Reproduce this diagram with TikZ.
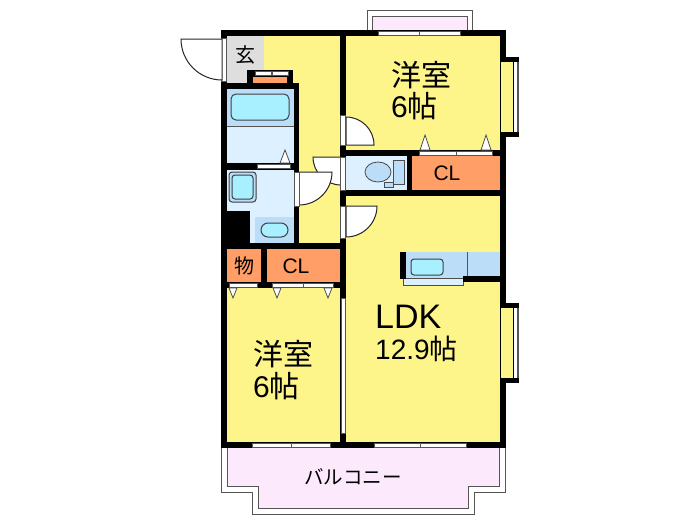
\documentclass[tikz,border=0pt]{standalone}
\usepackage{fontspec}
\setmainfont{Liberation Sans}
\newfontfamily\jpfont{Noto Sans CJK JP}
\definecolor{roomyellow}{HTML}{FDF58A}
\definecolor{closetorange}{HTML}{FF9E66}
\definecolor{entrygray}{HTML}{DEDEDE}
\definecolor{balconypink}{HTML}{FCE9FC}
\definecolor{wetblue}{HTML}{BBDDF7}
\definecolor{wetpale}{HTML}{DDF0FF}
\definecolor{tubcyan}{HTML}{A8F0FF}
\definecolor{linegray}{HTML}{555555}
\tikzset{
    wall/.style={fill=black},
    pane/.style={fill=white,draw=linegray,line width=1pt},
    doorleaf/.style={fill=white,draw=black!85,line width=1pt},
    fixture/.style={draw=black!75,line width=1pt,rounded corners=3pt},
    hinge/.style={fill=white,draw=black!70,line width=0.8pt},
    shell/.style={draw=linegray,line width=1pt},
    bigtext/.style={anchor=west,inner sep=0pt,font=\fontsize{30}{30}\selectfont},
    jptext/.style={inner sep=0pt,font=\jpfont\fontsize{20}{20}\selectfont},
    cltext/.style={inner sep=0pt,font=\fontsize{21}{21}\selectfont}
}
\begin{document}
\begin{tikzpicture}[x=1pt,y=-1pt]
    \useasboundingbox (0,0) rectangle (700,525);
    %% balconies
    \filldraw[shell,fill=white] (367,30) -- (367,10) -- (472,10) -- (472,30);
    \filldraw[shell,fill=balconypink] (372,30) -- (372,16) -- (467,16) -- (467,30);
    \draw[shell] (221,448) -- (221,492) -- (252,492) -- (252,514) -- (474,514) -- (474,492) -- (505,492) -- (505,448);
    \filldraw[shell,fill=balconypink] (227,448) -- (227,486) -- (258,486) -- (258,508) -- (468,508) -- (468,486) -- (499,486) -- (499,448);
    %% rooms
    \fill[roomyellow] (227,36) rectangle (500,442);
    \fill[entrygray] (227,36) rectangle (264,83);
    \fill[wetblue] (227,89) rectangle (294,126);
    \fill[wetpale] (227,126) rectangle (294,163);
    \fill[wetpale] (227,170) rectangle (294,211);
    \fill[wetpale] (250,211) rectangle (294,243);
    \fill[wetblue] (255,217) rectangle (294,243);
    \fill[wetpale] (346,156) rectangle (407,190);
    \fill[closetorange] (412,156) rectangle (500,190);
    \fill[closetorange] (227,249) rectangle (261,282);
    \fill[closetorange] (267,249) rectangle (340,282);
    %% bay windows
    \foreach \ya/\yb in {57/136.5,303/382.5}{
        \fill[wall] (500,\ya) rectangle (518.5,\yb);
        \fill[roomyellow] (500.5,\ya+5) rectangle (513,\yb-5);
        \fill[white] (514,\ya+5) rectangle (516.5,\yb-5);
        \fill[linegray] (516.5,\ya+5) rectangle (518.5,\yb-5);
    }
    %% walls
    \fill[wall] (221,30) rectangle (506,36);
    \fill[wall] (221,442) rectangle (506,448);
    \fill[wall] (221,30) rectangle (227,448);
    \fill[wall] (340,30) rectangle (346,448);
    \fill[wall] (500,30) rectangle (506,62);
    \fill[wall] (500,131.5) rectangle (506,308);
    \fill[wall] (500,377.5) rectangle (506,448);
    \fill[wall] (221,83) rectangle (299,89);
    \fill[wall] (294,83) rectangle (299,243);
    \fill[wall] (227,163) rectangle (294,170);
    \fill[wall] (221,211) rectangle (250,243);
    \fill[wall] (221,243) rectangle (346,249);
    \fill[wall] (261,249) rectangle (267,282);
    \fill[wall] (221,282) rectangle (346,288);
    \fill[wall] (346,150) rectangle (506,156);
    \fill[wall] (346,190) rectangle (506,196);
    \fill[wall] (407,156) rectangle (412,190);
    %% shoe cupboard
    \fill[wall] (247,70) rectangle (293,83);
    \fill[closetorange] (253,77) rectangle (287,83);
    \foreach \xa/\xb in {255/271,272/288}
        \filldraw[pane] (\xa,71.5) rectangle (\xb,75);
    %% window and closet door panes
    \foreach \xa/\xb/\ya/\yb in {378/419/31/35,419/460/31/35,
        252/291/443/447,291/330/443/447,374/420/443/447,420/466/443/447,
        229/257/283/287,272/303/283/287,303/333/283/287,
        419/456/151/155,456/492/151/155,257/290/164/168}
        \filldraw[pane] (\xa,\ya) rectangle (\xb,\yb);
    %% closet door pointers
    \foreach \x/\ya/\yb in {425/135/150,486/135/150,285/150/163}
        \filldraw[hinge] (\x-5,\yb) -- (\x,\ya) -- (\x+5,\yb) -- cycle;
    \foreach \x in {233,277,328}
        \filldraw[hinge] (\x-4,288) -- (\x,298) -- (\x+4,288) -- cycle;
    %% sliding door
    \filldraw[pane] (341,298) rectangle (345.5,433);
    %% doors
    \filldraw[pane] (221.5,38) rectangle (226,81);
    \filldraw[doorleaf] (222,39) -- (181,39) arc[start angle=180,end angle=90,radius=41] -- cycle;
    \filldraw[doorleaf] (346,145) -- (374,145) arc[start angle=0,end angle=-90,radius=28] -- cycle;
    \filldraw[doorleaf] (341,157) -- (313,157) arc[start angle=180,end angle=90,radius=28] -- cycle;
    \filldraw[doorleaf] (299,172) -- (332,172) arc[start angle=0,end angle=90,radius=33] -- cycle;
    \filldraw[doorleaf] (346,206) -- (377,206) arc[start angle=0,end angle=90,radius=31] -- cycle;
    \foreach \ya/\yb/\xa in {115/145/340.5,157/190/340.5,206/238/340.5,172/206/294.5}
        \filldraw[pane] (\xa,\ya) rectangle (\xa+5,\yb);
    %% bath fixtures
    \draw[fixture,fill=tubcyan,rounded corners=5pt] (231,94) rectangle (289,120);
    \draw[linegray] (227,126) -- (294,126);
    \draw[fixture,fill=wetblue] (229,172) rectangle (256,202);
    \draw[fixture,fill=tubcyan] (232,175) rectangle (253,199);
    \draw[fixture,fill=tubcyan,rounded corners=7pt] (261,223) rectangle (288,237);
    %% toilet
    \filldraw[hinge,fill=wetblue] (393,160) rectangle (404,184);
    \filldraw[hinge,fill=wetblue] (384,182) rectangle (393,187);
    \filldraw[hinge,fill=wetblue] (378,172) ellipse [x radius=13,y radius=10];
    %% kitchen
    \fill[wetblue] (406,252) rectangle (500,278);
    \draw[linegray] (467,252) -- (467,278);
    \filldraw[hinge,fill=wetpale] (403,278) rectangle (463,285);
    \fill[wall] (400,252) rectangle (406,279);
    \fill[wall] (463,276) rectangle (500,282);
    \draw[fixture,fill=tubcyan] (411,259) rectangle (443,275);
    %% labels
    \node[bigtext,font=\jpfont\fontsize{30}{30}\selectfont] (roomA) at (391,75) {洋室};
    \node[bigtext] (sizeA) at (391,106) {6\jpfont 帖};
    \node[bigtext,font=\jpfont\fontsize{30}{30}\selectfont] (roomB) at (253,354) {洋室};
    \node[bigtext] (sizeB) at (253,386) {6\jpfont 帖};
    \node[bigtext,font=\fontsize{34}{34}\selectfont] (ldk) at (375,317) {LDK};
    \node[bigtext,font=\fontsize{28}{28}\selectfont] (sizeC) at (375,349) {12.9\jpfont 帖};
    \node[jptext] (entry) at (245,55) {玄};
    \node[jptext] (store) at (244,266) {物};
    \node[cltext] (clA) at (447,173) {CL};
    \node[cltext] (clB) at (296,266) {CL};
    \node[jptext,font=\jpfont\fontsize{19.5}{20}\selectfont] (balcony) at (353,477) {バルコニー};
\end{tikzpicture}
\end{document}
